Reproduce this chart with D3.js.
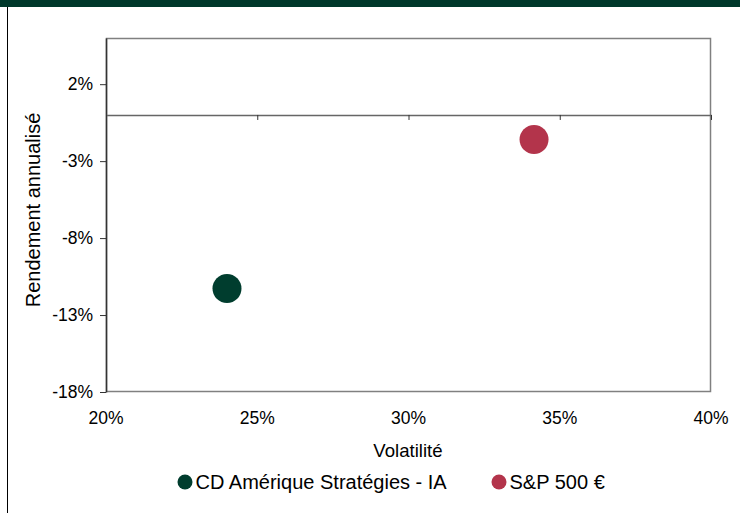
<!DOCTYPE html>
<html><head><meta charset="utf-8">
<script src="https://cdn.jsdelivr.net/npm/d3@7"></script>
<style>body{margin:0;background:#fff;}svg{display:block;font-family:"Liberation Sans",Arial,sans-serif;}</style>
</head><body>
<svg id="c" width="740" height="513"></svg>
<script>
const seriesNames = ["CD Amérique Stratégies - IA", "S&P 500 €"];
const volatility = [24.0, 34.15];
const returns = [-11.27, -1.6];
const colors = ["#003d2e", "#b3344b"];
const xTicks = [20, 25, 30, 35, 40];
const yTicks = [2, -3, -8, -13, -18];

const FF = '"Liberation Sans", Arial, sans-serif';
const svg = d3.select("#c");
const L = 106, R = 711, T = 38, B = 392;
const x = d3.scaleLinear().domain([20, 40]).range([L, R]);
const y = d3.scaleLinear().domain([-18, 5]).range([B, T]);

// banner and frame
svg.append("rect").attr("x",0).attr("y",0).attr("width",740).attr("height",7).attr("fill","#00382b");
svg.append("line").attr("x1",7.5).attr("x2",7.5).attr("y1",7).attr("y2",513).attr("stroke","#000").attr("stroke-width",1);

// plot border
svg.append("rect").attr("x",L+0.5).attr("y",T+0.5).attr("width",R-L-1).attr("height",B-T-1)
  .attr("fill","none").attr("stroke","#808080").attr("stroke-width",1.5);

// y axis
const yAxis = d3.axisLeft(y).tickValues(yTicks).tickSize(6).tickSizeOuter(0).tickFormat(d => d + "%");
const gy = svg.append("g").attr("transform",`translate(${L},0)`).call(yAxis)
  .attr("font-family", FF).attr("font-size", 17.5);
gy.select(".domain").attr("stroke","#333").attr("stroke-width",1.5);
gy.selectAll(".tick line").attr("stroke","#333");
gy.selectAll(".tick text").attr("fill","#000").attr("x",-13);

// x axis line at y=0 with ticks below, labels at bottom
const xAxis = d3.axisBottom(x).tickValues(xTicks).tickSize(5).tickSizeOuter(0).tickFormat("");
const gx = svg.append("g").attr("transform",`translate(0,${y(0)})`).call(xAxis);
gx.select(".domain").attr("stroke","#666").attr("stroke-width",1.5);
gx.selectAll(".tick line").attr("stroke","#333");
svg.append("g").selectAll("text").data(xTicks).join("text")
  .attr("x", d => x(d)).attr("y", 424).attr("text-anchor","middle")
  .attr("font-size",17.5).text(d => d + "%");

// titles
svg.append("text").attr("x",408).attr("y",456.5).attr("text-anchor","middle").attr("font-size",18.6).text("Volatilité");
svg.append("text").attr("transform","translate(40,210) rotate(-90)").attr("text-anchor","middle").attr("font-size",20).text("Rendement annualisé");

// points
svg.append("g").selectAll("circle").data(seriesNames).join("circle")
  .attr("cx",(d,i)=>x(volatility[i])).attr("cy",(d,i)=>y(returns[i])).attr("r",14.5)
  .attr("fill",(d,i)=>colors[i]);

// legend
const legX = [185, 499];
const lg = svg.append("g").selectAll("g").data(seriesNames).join("g")
  .attr("transform",(d,i)=>`translate(${legX[i]},482)`);
lg.append("circle").attr("r",7.5).attr("fill",(d,i)=>colors[i]);
lg.append("text").attr("x",10.5).attr("y",6.5).attr("font-size",20).text(d=>d);
</script>
</body></html>
